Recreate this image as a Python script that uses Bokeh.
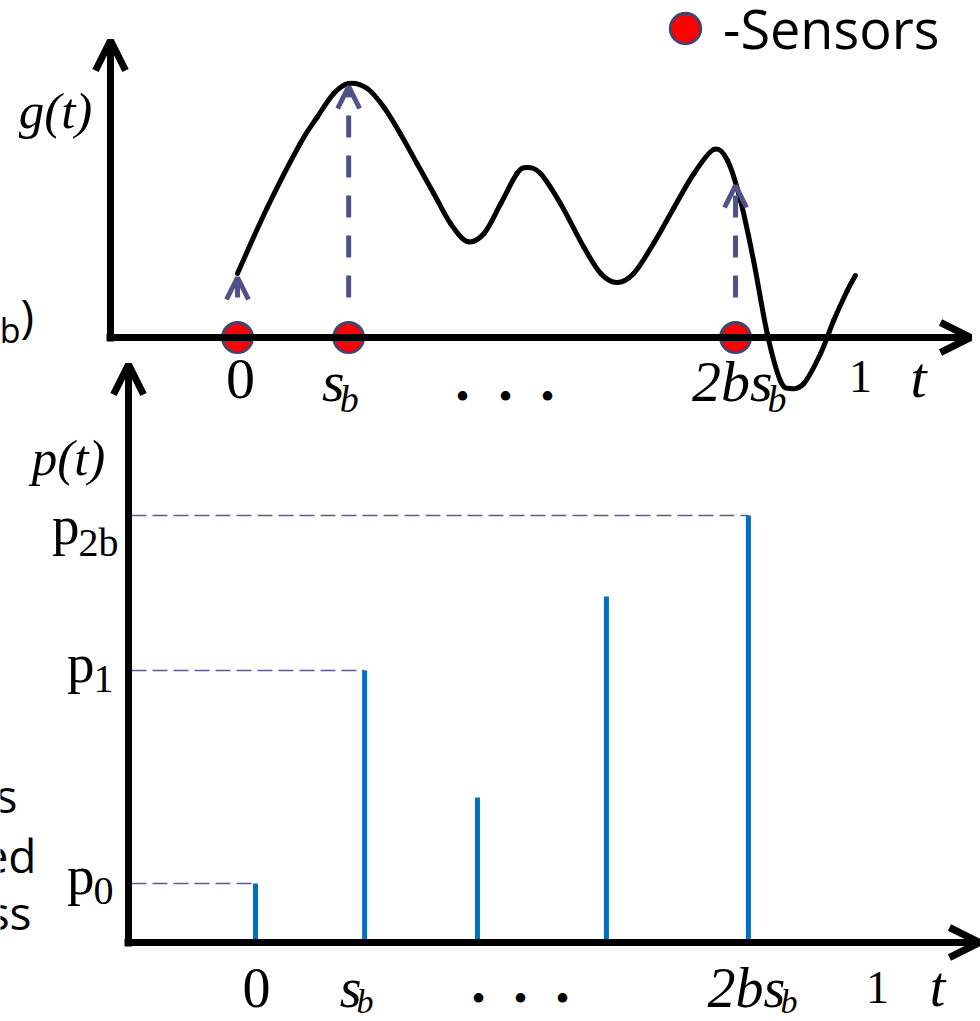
from bokeh.plotting import figure
from bokeh.models import Range1d, ColumnDataSource, Arrow, OpenHead, Legend, LegendItem
from bokeh.core.properties import value
from bokeh.embed import file_html
from bokeh.resources import INLINE

# ---------------- data ----------------
# top panel: continuous signal g(t)
curve_t = [0.000, 0.048, 0.101, 0.128, 0.155, 0.179, 0.209, 0.236, 0.262, 0.289,
           0.316, 0.343, 0.370, 0.397, 0.424, 0.450, 0.466, 0.488, 0.520, 0.558,
           0.585, 0.611, 0.638, 0.670, 0.703, 0.735, 0.767, 0.789, 0.810, 0.831,
           0.853, 0.874, 0.890, 0.912, 0.939, 0.960, 0.982, 0.995]
curve_g = [0.64, 1.30, 1.94, 2.20, 2.44, 2.54, 2.49, 2.30, 2.04, 1.74,
           1.44, 1.14, 0.96, 1.04, 1.34, 1.64, 1.70, 1.64, 1.34, 0.90,
           0.64, 0.55, 0.64, 0.94, 1.30, 1.64, 1.88, 1.77, 1.37, 0.77,
           0.04, -0.43, -0.51, -0.46, -0.16, 0.17, 0.47, 0.62]
S_B = 0.179
TWO_B_S_B = 0.802
sensor_t = [0.0, S_B, TWO_B_S_B]
sample_g = [0.60, 2.51, 1.52]

# bottom panel: pulse train p(t)
spike_t = [0.0, 0.176, 0.358, 0.566, 0.795]
spike_p = [0.59, 2.72, 1.45, 3.46, 4.27]
labelled_spikes = [0, 1, 4]
p_main = ["p", "p", "p"]
p_sub = ["0", "1", "2b"]

# ---------------- layout helpers (pixel anchors) ----------------
W, H = 980, 1021
TX0, TSX, TY0, TSY = 237.0, 621.0, 337.0, 100.0   # top panel
BX0, BSX, BY0, BSY = 255.0, 620.0, 942.0, 100.0   # bottom panel

def tx(px): return (px - TX0) / TSX
def ty(py): return (TY0 - py) / TSY
def bx(px): return (px - BX0) / BSX
def by(py): return (BY0 - py) / BSY

SERIF = value("Liberation Serif")
SANS = value("Open Sans")
ARROW_C = "#51518a"
CIRCLE_LINE = "#44446e"
BLUE = "#0070c0"

p = figure(width=W, height=H, output_backend="svg", toolbar_location=None,
           x_range=Range1d(tx(0), tx(W)), y_range=Range1d(ty(H), ty(0)),
           x_axis_location=None, y_axis_location=None, min_border=0,
           outline_line_color=None)
p.grid.visible = False
p.extra_x_ranges = {"bx": Range1d(bx(0), bx(W))}
p.extra_y_ranges = {"by": Range1d(by(H), by(0))}
p.background_fill_color = "white"
p.border_fill_color = "white"

def axis_arrow(x0, y0, x1, y1, xr="default", yr="default", size=30, width=7):
    p.add_layout(Arrow(x_start=x0, y_start=y0, x_end=x1, y_end=y1,
                       line_width=width, line_color="black",
                       end=OpenHead(size=size, line_width=width, line_color="black"),
                       x_range_name=xr, y_range_name=yr))

def smooth(xs, ys, **kw):
    # Catmull-Rom rendering of the read points as cubic Bezier pieces
    n = len(xs)
    x0, y0, x1, y1, cx0, cy0, cx1, cy1 = [], [], [], [], [], [], [], []
    for i in range(n - 1):
        a = max(i - 1, 0)
        d = min(i + 2, n - 1)
        x0.append(xs[i]); y0.append(ys[i]); x1.append(xs[i + 1]); y1.append(ys[i + 1])
        cx0.append(xs[i] + (xs[i + 1] - xs[a]) / 6.0)
        cy0.append(ys[i] + (ys[i + 1] - ys[a]) / 6.0)
        cx1.append(xs[i + 1] - (xs[d] - xs[i]) / 6.0)
        cy1.append(ys[i + 1] - (ys[d] - ys[i]) / 6.0)
    p.bezier(x0=x0, y0=y0, x1=x1, y1=y1, cx0=cx0, cy0=cy0, cx1=cx1, cy1=cy1, **kw)

# ---------------- top panel ----------------
axis_arrow(tx(110), ty(341), tx(110), ty(40))
axis_arrow(tx(106), 0, tx(970), 0)

sens_src = ColumnDataSource(dict(t=sensor_t, g=sample_g, base=[ty(297)] * 3, zero=[0.0] * 3))
p.add_layout(Arrow(source=sens_src, x_start="t", y_start="base", x_end="t", y_end="g",
                   line_width=5, line_color=ARROW_C, line_dash="22 18",
                   end=OpenHead(size=22, line_width=5, line_color=ARROW_C)))

smooth(curve_t, curve_g, line_width=5, line_color="black", line_cap="round")

sensors = p.scatter("t", "zero", source=sens_src, size=30, fill_color="#ff0000",
                    line_color=CIRCLE_LINE, line_width=3)

legend = Legend(items=[LegendItem(label="-Sensors", renderers=[sensors])],
                location=(647, H + 10 - 76), glyph_width=76, glyph_height=76,
                label_standoff=0, padding=0, margin=0, spacing=0,
                label_text_font="Open Sans", label_text_font_size="54px",
                label_text_color="black",
                border_line_color=None, background_fill_alpha=0)
p.add_layout(legend)

BASE_SHIFT = 0.37   # em correction for alphabetic baseline placement

def txt(x, ypix, s, size, panel="top", font=SERIF, style="normal", align="center",
        baseline="alphabetic", color="black"):
    if baseline == "alphabetic":
        ypix = ypix - BASE_SHIFT * size
    if panel == "top":
        y, xr, yr = ty(ypix), "default", "default"
    else:
        y, xr, yr = by(ypix), "bx", "by"
    p.text(x=[x], y=[y], text=[s], text_font=font, text_font_size=f"{size}px",
           text_font_style=style, text_align=align, text_baseline=baseline,
           text_color=color, x_range_name=xr, y_range_name=yr)

# top tick labels
txt(tx(TX0 + 3), 400, "0", 58)
txt(tx(TX0 + TSX * S_B - 4), 402, "s", 58, style="italic", align="right")
txt(tx(TX0 + TSX * S_B - 9), 413, "b", 38, style="italic", align="left")
for dx in (462, 505, 547):
    txt(tx(dx), 396, "\u2022", 40, baseline="middle")
txt(tx(TX0 + TSX * TWO_B_S_B + 37), 402, "2bs", 58, style="italic", align="right")
txt(tx(TX0 + TSX * TWO_B_S_B + 32), 413, "b", 38, style="italic", align="left")
txt(tx(TX0 + TSX * 1.0 + 2), 393, "1", 46)
txt(tx(918), 398, "t", 58, style="italic")
txt(tx(55), 129, "g(t)", 51, style="italic")

# cut-off left texts
txt(tx(20), 342, "b", 34, font=SANS, align="right")
txt(tx(20), 332, ")", 46, font=SANS, align="left")

# ---------------- bottom panel ----------------
axis_arrow(bx(128), by(946), bx(128), by(364), xr="bx", yr="by")
axis_arrow(bx(124), 0, bx(979), 0, xr="bx", yr="by")

g_src = ColumnDataSource(dict(
    x0=[bx(131)] * len(labelled_spikes),
    x1=[spike_t[i] for i in labelled_spikes],
    y=[spike_p[i] for i in labelled_spikes]))
p.segment(x0="x0", y0="y", x1="x1", y1="y", source=g_src, line_color="#5c5c90",
          line_width=1.6, line_dash="15 6", x_range_name="bx", y_range_name="by")

p.segment(x0=spike_t, y0=[0.0] * len(spike_t), x1=spike_t, y1=spike_p,
          line_color=BLUE, line_width=5, x_range_name="bx", y_range_name="by")

# y labels p_0, p_1, p_2b
y_main_off = [12, 13, 30]
y_sub_off = [22, 23, 42]
x_junction = [94, 94, 79]
for k, i in enumerate(labelled_spikes):
    ypx = BY0 - BSY * spike_p[i]
    txt(bx(x_junction[k]), ypx + y_main_off[k], p_main[k], 55, panel="bot", align="right")
    txt(bx(x_junction[k] - 1), ypx + y_sub_off[k], p_sub[k], 40, panel="bot", align="left")
txt(bx(68), 476, "p(t)", 51, panel="bot", style="italic")

# bottom tick labels
txt(bx(BX0 + 1), 1008, "0", 56, panel="bot")
txt(bx(BX0 + BSX * spike_t[1] - 3), 1008, "s", 56, panel="bot", style="italic", align="right")
txt(bx(BX0 + BSX * spike_t[1] - 8), 1014, "b", 34, panel="bot", style="italic", align="left")
for dx in (478, 520, 562):
    txt(bx(dx), 998, "\u2022", 40, panel="bot", baseline="middle")
txt(bx(BX0 + BSX * spike_t[4] + 37), 1008, "2bs", 56, panel="bot", style="italic", align="right")
txt(bx(BX0 + BSX * spike_t[4] + 32), 1014, "b", 34, panel="bot", style="italic", align="left")
txt(bx(BX0 + BSX * 1.0 + 2), 1004, "1", 46, panel="bot")
txt(bx(937), 1007, "t", 56, panel="bot", style="italic")

# cut-off left texts
txt(bx(17), 812, "s", 46, panel="bot", font=SANS, align="right")
txt(bx(36), 872, "ed", 46, panel="bot", font=SANS, align="right")
txt(bx(31), 929, "ss", 46, panel="bot", font=SANS, align="right")

open("out.html", "w").write(file_html(p, INLINE))
